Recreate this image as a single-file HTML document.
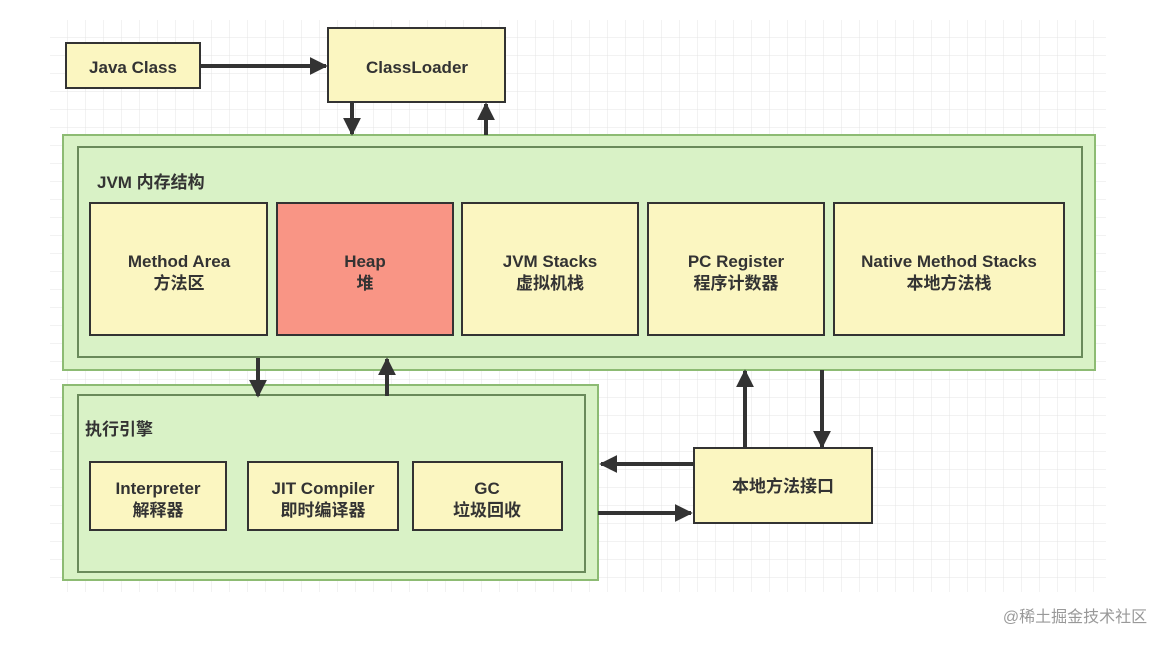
<!DOCTYPE html>
<html><head><meta charset="utf-8"><style>
body{margin:0;background:#fff;width:1174px;height:646px;overflow:hidden}
</style></head><body>
<svg width="1174" height="646" xmlns="http://www.w3.org/2000/svg" style="display:block">
<defs>
<pattern id="g" width="18" height="18" patternUnits="userSpaceOnUse" x="50" y="20">
<path d="M18 0V18H0" fill="none" stroke="#e4e4e4" stroke-width="1"/>
</pattern>
<marker id="a" viewBox="0 0 10 10" refX="9" refY="5" markerWidth="4.5" markerHeight="4.5" orient="auto" markerUnits="strokeWidth">
<path d="M0 0L10 5L0 10z" fill="#333"/></marker>
</defs>
<rect x="50" y="20" width="1056" height="572" fill="url(#g)"/>
<g font-family="Liberation Sans, Noto Sans CJK SC, sans-serif" font-weight="bold" font-size="17" fill="#333" text-anchor="middle" stroke="#333" stroke-width="2">
<rect x="63" y="135" width="1032" height="235" fill="#d9f2c6" stroke="#8dbb73"/>
<rect x="78" y="147" width="1004" height="210" fill="#d9f2c6" stroke="#6a8a5a"/>
<rect x="63" y="385" width="535" height="195" fill="#d9f2c6" stroke="#8dbb73"/>
<rect x="78" y="395" width="507" height="177" fill="#d9f2c6" stroke="#6a8a5a"/>
<rect x="66" y="43" width="134" height="45" fill="#fbf6c1"/>
<rect x="328" y="28" width="177" height="74" fill="#fbf6c1"/>
<rect x="90" y="203" width="177" height="132" fill="#fbf6c1"/>
<rect x="277" y="203" width="176" height="132" fill="#f99585"/>
<rect x="462" y="203" width="176" height="132" fill="#fbf6c1"/>
<rect x="648" y="203" width="176" height="132" fill="#fbf6c1"/>
<rect x="834" y="203" width="230" height="132" fill="#fbf6c1"/>
<rect x="90" y="462" width="136" height="68" fill="#fbf6c1"/>
<rect x="248" y="462" width="150" height="68" fill="#fbf6c1"/>
<rect x="413" y="462" width="149" height="68" fill="#fbf6c1"/>
<rect x="694" y="448" width="178" height="75" fill="#fbf6c1"/>
<g stroke-width="4" fill="none">
<line x1="200" y1="66" x2="326" y2="66" marker-end="url(#a)"/>
<line x1="352" y1="102" x2="352" y2="134" marker-end="url(#a)"/>
<line x1="486" y1="135" x2="486" y2="104" marker-end="url(#a)"/>
<line x1="258" y1="358" x2="258" y2="396" marker-end="url(#a)"/>
<line x1="387" y1="396" x2="387" y2="359" marker-end="url(#a)"/>
<line x1="745" y1="448" x2="745" y2="371" marker-end="url(#a)"/>
<line x1="822" y1="370" x2="822" y2="447" marker-end="url(#a)"/>
<line x1="694" y1="464" x2="601" y2="464" marker-end="url(#a)"/>
<line x1="598" y1="513" x2="691" y2="513" marker-end="url(#a)"/>
</g>
<g stroke="none">
<text x="133" y="73">Java Class</text>
<text x="417" y="73">ClassLoader</text>
<text x="97" y="188" text-anchor="start">JVM 内存结构</text>
<text x="179" y="267">Method Area</text><text x="179" y="289">方法区</text>
<text x="365" y="267">Heap</text><text x="365" y="289">堆</text>
<text x="550" y="267">JVM Stacks</text><text x="550" y="289">虚拟机栈</text>
<text x="736" y="267">PC Register</text><text x="736" y="289">程序计数器</text>
<text x="949" y="267">Native Method Stacks</text><text x="949" y="289">本地方法栈</text>
<text x="85" y="435" text-anchor="start">执行引擎</text>
<text x="158" y="494">Interpreter</text><text x="158" y="516">解释器</text>
<text x="323" y="494">JIT Compiler</text><text x="323" y="516">即时编译器</text>
<text x="487" y="494">GC</text><text x="487" y="516">垃圾回收</text>
<text x="783" y="492">本地方法接口</text>
<text x="1075" y="622" font-weight="normal" font-size="16" fill="#999">@稀土掘金技术社区</text>
</g>
</g>
</svg>
</body></html>
